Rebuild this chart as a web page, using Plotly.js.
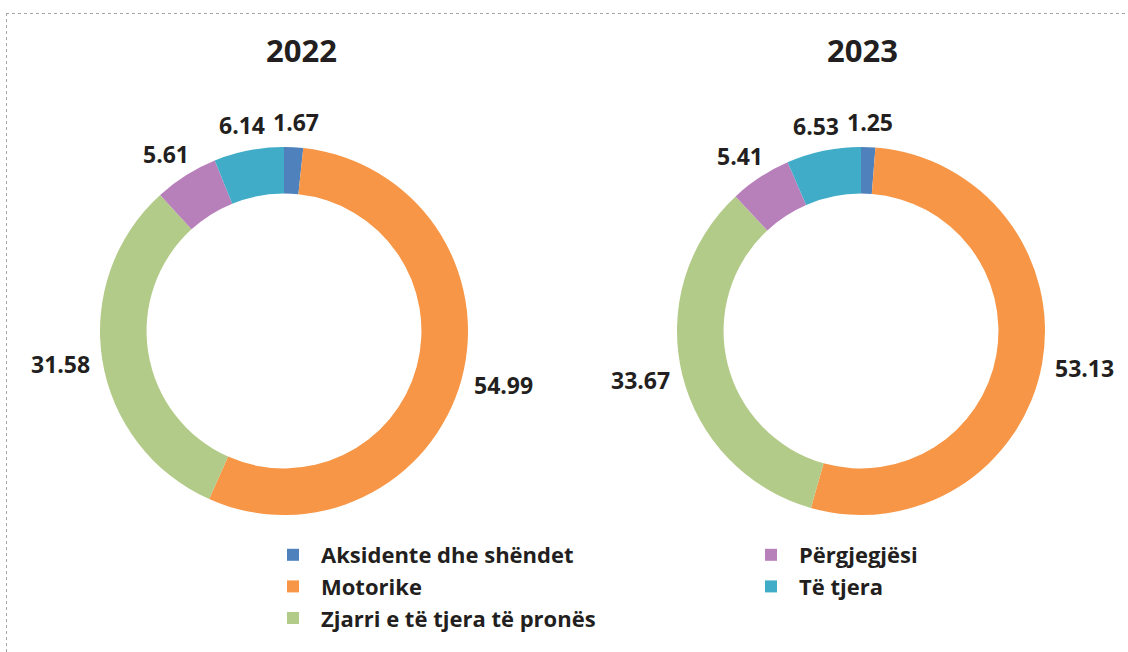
<!DOCTYPE html>
<html>
<head>
<meta charset="utf-8">
<script src="https://cdn.plot.ly/plotly-3.0.1.min.js"></script>
<style>
html,body{margin:0;padding:0;background:#fff;}
#chart{width:1128px;height:652px;}
</style>
</head>
<body>
<div id="chart"></div>
<script>
// ---- data ----
var categories = ["Aksidente dhe shëndet", "Motorike", "Zjarri e të tjera të pronës", "Përgjegjësi", "Të tjera"];
var colors = ["#4F81BD", "#F79646", "#B3CB89", "#B780BA", "#41ACC7"];
var years = ["2022", "2023"];
var values2022 = [1.67, 54.99, 31.58, 5.61, 6.14];
var values2023 = [1.25, 53.13, 33.67, 5.41, 6.53];
var legendColumn = [1, 1, 1, 2, 2];

// ---- layout constants ----
var W = 1128, H = 652;
var R = 184;
var centers = [{x: 284, y: 331}, {x: 861, y: 331}];
var titlePos = [{x: 301, y: 50}, {x: 862, y: 50}];
var textColor = "#231F20";
var fontFam = "Open Sans, DejaVu Sans, sans-serif";
var labelSize = 23;

var allValues = [values2022, values2023];
var traces = [];
var annotations = [];

allValues.forEach(function (vals, k) {
  var c = centers[k];
  traces.push({
    type: "pie",
    values: vals,
    labels: categories,
    marker: {colors: colors, line: {width: 0}},
    hole: 0.747,
    sort: false,
    direction: "clockwise",
    rotation: 0,
    textinfo: "none",
    showlegend: false,
    hovertemplate: "%{label}: %{value}<extra>" + years[k] + "</extra>",
    domain: {
      x: [(c.x - R) / W, (c.x + R) / W],
      y: [1 - (c.y + R) / H, 1 - (c.y - R) / H]
    }
  });
  // year title
  annotations.push({
    text: years[k], xref: "paper", yref: "paper",
    x: titlePos[k].x / W, y: 1 - titlePos[k].y / H,
    xanchor: "center", yanchor: "middle", showarrow: false,
    font: {family: fontFam, size: 31, weight: "bold", color: textColor}
  });
  // value labels, placed outside the ring from the data's slice angles
  var total = vals.reduce(function (a, b) { return a + b; }, 0);
  var cum = 0;
  vals.forEach(function (v) {
    var mid = (cum + v / 2) / total * 2 * Math.PI;
    cum += v;
    var s = Math.sin(mid), co = Math.cos(mid);
    var txt = v.toFixed(2);
    var halfW = txt.length * labelSize * 0.52 / 2;
    var halfH = labelSize * 0.55;
    var r = R * 1.07;
    var px = c.x + s * (r + halfW), py = c.y - co * (r + halfH);
    annotations.push({
      text: txt, xref: "paper", yref: "paper",
      x: px / W, y: 1 - py / H, xanchor: "center", yanchor: "middle", showarrow: false,
      font: {family: fontFam, size: labelSize, weight: "bold", color: textColor}
    });
  });
});

// legend entries (two columns)
categories.forEach(function (cat, i) {
  traces.push({
    type: "scatter", mode: "markers", x: [null], y: [null],
    name: cat,
    marker: {symbol: "square", size: 12, color: colors[i]},
    legend: legendColumn[i] === 1 ? "legend" : "legend2",
    hoverinfo: "skip"
  });
});

var legendFont = {family: fontFam, size: 22, weight: "bold", color: textColor};
var layout = {
  width: W, height: H,
  margin: {l: 0, r: 0, t: 0, b: 0},
  paper_bgcolor: "#fff", plot_bgcolor: "#fff",
  xaxis: {visible: false}, yaxis: {visible: false},
  showlegend: true,
  legend: {
    x: 265 / W, y: 1 - 534 / H, xanchor: "left", yanchor: "top",
    orientation: "v", font: legendFont, itemwidth: 46,
    bgcolor: "rgba(0,0,0,0)", borderwidth: 0
  },
  legend2: {
    x: 743 / W, y: 1 - 534 / H, xanchor: "left", yanchor: "top",
    orientation: "v", font: legendFont, itemwidth: 46,
    bgcolor: "rgba(0,0,0,0)", borderwidth: 0
  },
  annotations: annotations,
  shapes: [
    {type: "line", xref: "paper", yref: "paper", x0: 6 / W, x1: 1, y0: 1 - 13.5 / H, y1: 1 - 13.5 / H,
     line: {color: "#A6A6A6", width: 1, dash: "dot"}},
    {type: "line", xref: "paper", yref: "paper", x0: 6.5 / W, x1: 6.5 / W, y0: 0, y1: 1 - 13.5 / H,
     line: {color: "#A6A6A6", width: 1, dash: "dot"}}
  ]
};

Plotly.newPlot("chart", traces, layout, {displayModeBar: false});
</script>
</body>
</html>
